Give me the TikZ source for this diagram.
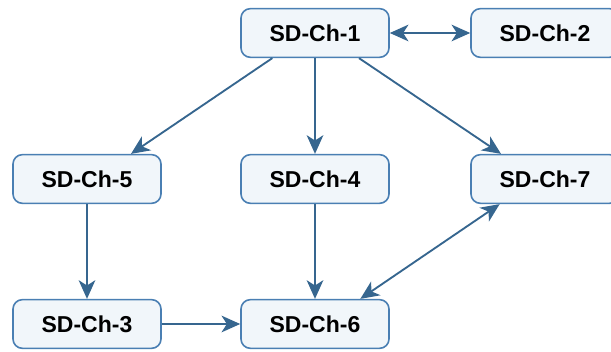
\documentclass[tikz,border=0pt]{standalone}
\usepackage{fontspec}
\setmainfont{Liberation Sans}
\usetikzlibrary{arrows.meta}
\definecolor{boxfill}{HTML}{F1F6FA}
\definecolor{boxline}{HTML}{4A7FB3}
\definecolor{arrowline}{HTML}{36668F}
\begin{document}
\begin{tikzpicture}[x=0.75pt,y=-0.75pt,line join=round]
    \tikzset{chbox/.style={draw=boxline,fill=boxfill,line width=1.2pt,rounded corners=7pt,
            minimum width=111pt,minimum height=36.5pt,inner sep=0pt,
            font=\fontsize{17.25}{20}\selectfont\bfseries},
        tip/.tip={Stealth[length=14pt,width=12.5pt,inset=4pt]},
        link/.style={draw=arrowline,line width=1.4pt,-tip},
        dlink/.style={link,tip-tip}}
    \useasboundingbox (0,0) rectangle (611,352);
    % top row
    \node[chbox] (ch1) at (315,33) {SD-Ch-1};
    \node[chbox] (ch2) at (545,33) {SD-Ch-2};
    % middle row
    \node[chbox] (ch5) at (87,179) {SD-Ch-5};
    \node[chbox] (ch4) at (315,179) {SD-Ch-4};
    \node[chbox] (ch7) at (545,179) {SD-Ch-7};
    % bottom row
    \node[chbox] (ch3) at (87,324) {SD-Ch-3};
    \node[chbox] (ch6) at (315,324) {SD-Ch-6};
    % links
    \draw[dlink] (ch1) -- (ch2);
    \draw[link] ([xshift=-32pt]ch1.south) -- ([xshift=33pt]ch5.north);
    \draw[link] (ch1) -- (ch4);
    \draw[link] ([xshift=33pt]ch1.south) -- ([xshift=-33pt]ch7.north);
    \draw[link] (ch5) -- (ch3);
    \draw[link] (ch4) -- (ch6);
    \draw[link] (ch3) -- (ch6);
    \draw[dlink] ([xshift=-34pt]ch7.south) -- ([xshift=34pt]ch6.north);
\end{tikzpicture}
\end{document}
